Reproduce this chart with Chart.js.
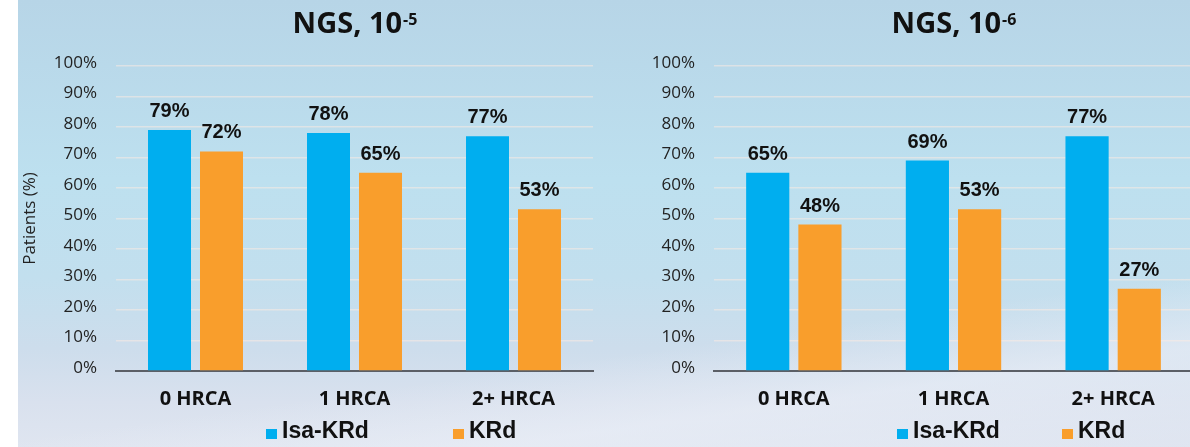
<!DOCTYPE html>
<html lang="en">
<head>
    <meta charset="UTF-8">
    <title>NGS MRD by HRCA</title>
    <script src="https://cdn.jsdelivr.net/npm/chart.js"></script>
    <style>
        html, body { margin: 0; padding: 0; background: #fff; }
        #stage {
            position: relative;
            width: 1190px;
            height: 447px;
            overflow: hidden;
            background:
                linear-gradient(172deg, rgba(255,255,255,0) 72%, rgba(236,240,248,0.55) 84%, rgba(224,230,242,0.3) 100%),
                linear-gradient(to bottom, #b7d5e7 0%, #bde0ef 40%, #c2dfee 62%, #cdddec 78%, #d9e1ee 90%, #dfe5f0 100%);
        }
        #strip { position: absolute; left: 0; top: 0; width: 18px; height: 447px; background: #fff; }
        canvas { position: absolute; top: 0; }
        #left { left: 18px; }
        #right { left: 610px; }
    </style>
</head>
<body>
    <div id="stage">
        <div id="strip"></div>
        <canvas id="left" width="592" height="447"></canvas>
        <canvas id="right" width="590" height="447"></canvas>
    </div>
    <script>
        // Data
        var categories = ['0 HRCA', '1 HRCA', '2+ HRCA'];
        var seriesNames = ['Isa-KRd', 'KRd'];
        var isaKrd5 = [79, 78, 77];
        var krd5 = [72, 65, 53];
        var isaKrd6 = [65, 69, 77];
        var krd6 = [48, 53, 27];
        var yMin = 0, yMax = 100, yStep = 10;

        var BLUE = '#00aeef';
        var ORANGE = '#f99e2c';

        // Title with superscript exponent, centred over the plot area
        var supTitle = {
            id: 'supTitle',
            afterDraw: function (chart, args, opts) {
                var ctx = chart.ctx, a = chart.chartArea;
                ctx.save();
                ctx.fillStyle = '#111';
                ctx.textBaseline = 'alphabetic';
                ctx.font = 'bold 29px "Open Sans"';
                var w1 = ctx.measureText(opts.text).width;
                ctx.font = 'bold 16px "Open Sans"';
                var w2 = ctx.measureText(opts.sup).width;
                var x = (a.left + a.right) / 2 - (w1 + w2) / 2;
                ctx.font = 'bold 29px "Open Sans"';
                ctx.fillText(opts.text, x, 33);
                ctx.font = 'bold 16px "Open Sans"';
                ctx.fillText(opts.sup, x + w1 + 1, 25);
                ctx.restore();
            }
        };

        // Value labels above bars
        var barValues = {
            id: 'barValues',
            afterDatasetsDraw: function (chart) {
                var ctx = chart.ctx;
                ctx.save();
                ctx.font = 'bold 20px "Liberation Sans", Arial';
                ctx.fillStyle = '#111';
                ctx.textAlign = 'center';
                ctx.textBaseline = 'alphabetic';
                chart.data.datasets.forEach(function (ds, i) {
                    chart.getDatasetMeta(i).data.forEach(function (bar, j) {
                        ctx.fillText(ds.data[j] + '%', bar.x, bar.y - 13);
                    });
                });
                ctx.restore();
            }
        };

        // Square-marker legend under the axis labels
        var boxLegend = {
            id: 'boxLegend',
            afterDraw: function (chart, args, opts) {
                var ctx = chart.ctx, a = chart.chartArea;
                ctx.save();
                ctx.font = 'bold 23px "Liberation Sans", Arial';
                ctx.textBaseline = 'alphabetic';
                chart.data.datasets.forEach(function (ds, i) {
                    var x = a.left + opts.x[i];
                    ctx.fillStyle = ds.backgroundColor;
                    ctx.fillRect(x, 429, 11, 10);
                    ctx.fillStyle = '#111';
                    ctx.fillText(ds.label, x + 16, 438);
                });
                ctx.restore();
            }
        };

        function makeChart(id, a, b, title, sup, axisWidth, padRight, showYTitle, legendX) {
            return new Chart(document.getElementById(id), {
                type: 'bar',
                data: {
                    labels: categories,
                    datasets: [
                        { label: seriesNames[0], data: a, backgroundColor: BLUE },
                        { label: seriesNames[1], data: b, backgroundColor: ORANGE }
                    ]
                },
                options: {
                    responsive: false,
                    animation: false,
                    devicePixelRatio: 1,
                    layout: { padding: { top: 66, right: padRight, left: 0, bottom: 0 } },
                    datasets: { bar: { categoryPercentage: 0.654, barPercentage: 0.827 } },
                    scales: {
                        x: {
                            grid: { display: false, drawTicks: false },
                            border: { display: true, color: '#5b5f66', width: 2 },
                            ticks: {
                                color: '#111',
                                padding: 16,
                                font: { family: '"Open Sans"', size: 20, weight: 'bold' }
                            },
                            afterFit: function (s) { s.height = 76; }
                        },
                        y: {
                            min: yMin,
                            max: yMax,
                            grid: { color: 'rgba(255,236,226,0.5)', lineWidth: 1.5, drawTicks: false },
                            border: { display: false },
                            ticks: {
                                stepSize: yStep,
                                color: '#222',
                                padding: 19,
                                labelOffset: -3,
                                font: { family: '"Open Sans"', size: 17 },
                                callback: function (v) { return v + '%'; }
                            },
                            title: {
                                display: showYTitle,
                                text: 'Patients (%)',
                                color: '#222',
                                padding: { top: 2, bottom: 0 },
                                font: { family: '"Open Sans"', size: 17 }
                            },
                            afterFit: function (s) { s.width = axisWidth; }
                        }
                    },
                    plugins: {
                        legend: { display: false },
                        tooltip: { enabled: false },
                        supTitle: { text: title, sup: sup },
                        boxLegend: { x: legendX }
                    }
                },
                plugins: [supTitle, barValues, boxLegend]
            });
        }

        makeChart('left', isaKrd5, krd5, 'NGS, 10', '-5', 98, 17, true, [150, 337]);
        makeChart('right', isaKrd6, krd6, 'NGS, 10', '-6', 104, 7, false, [183, 348]);
    </script>
</body>
</html>
